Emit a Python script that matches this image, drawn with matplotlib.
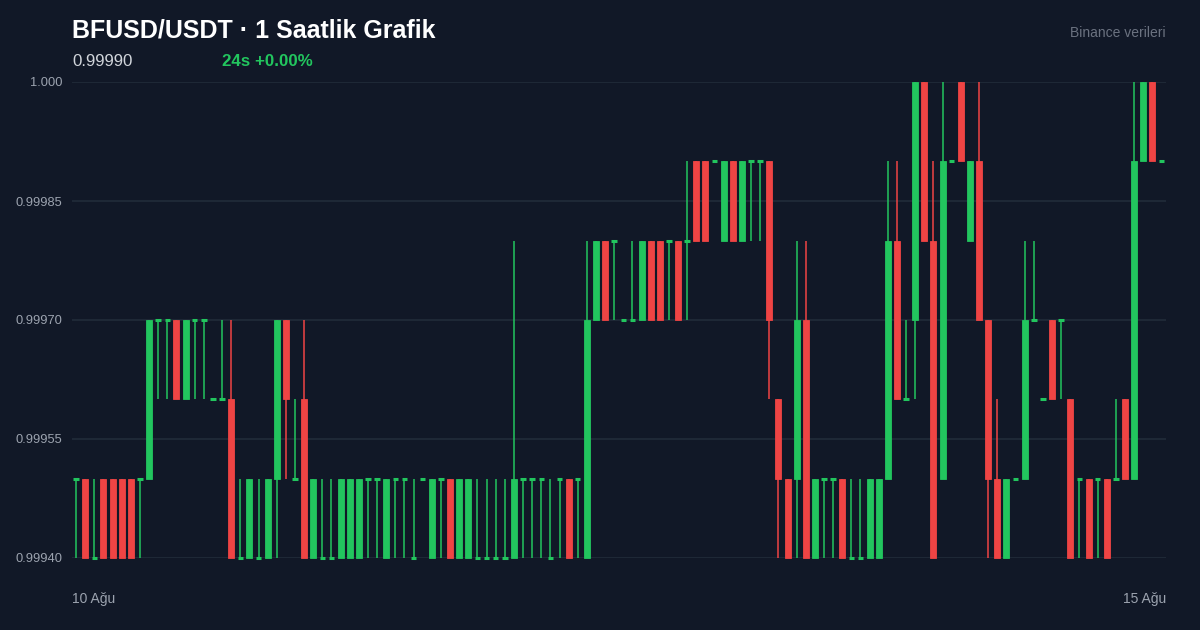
import numpy as np
import matplotlib
matplotlib.use("Agg")
import matplotlib.pyplot as plt

plt.rcParams['font.family'] = ['Liberation Sans', 'DejaVu Sans']

# hourly candles, 10 Ağu -> 15 Ağu (prices)
opens = [
    0.9995, 0.9995, 0.9994, 0.9995, 0.9995, 0.9995, 0.9995, 0.9995, 0.9995, 0.9997,
    0.9997, 0.9997, 0.9996, 0.9997, 0.9997, 0.9996, 0.9996, 0.9996, 0.9994, 0.9994,
    0.9994, 0.9994, 0.9995, 0.9997, 0.9995, 0.9996, 0.9994, 0.9994, 0.9994, 0.9994,
    0.9994, 0.9994, 0.9995, 0.9995, 0.9994, 0.9995, 0.9995, 0.9994, 0.9995, 0.9994,
    0.9995, 0.9995, 0.9994, 0.9994, 0.9994, 0.9994, 0.9994, 0.9994, 0.9994, 0.9995,
    0.9995, 0.9995, 0.9994, 0.9995, 0.9995, 0.9995, 0.9994, 0.9997, 0.9998, 0.9998,
    0.9997, 0.9997, 0.9997, 0.9998, 0.9998, 0.9998, 0.9998, 0.9998, 0.9999, 0.9999,
    0.9999, 0.9998, 0.9999, 0.9998, 0.9999, 0.9999, 0.9999, 0.9996, 0.9995, 0.9995,
    0.9997, 0.9994, 0.9995, 0.9995, 0.9995, 0.9994, 0.9994, 0.9994, 0.9994, 0.9995,
    0.9998, 0.9996, 0.9997, 1.0000, 0.9998, 0.9995, 0.9999, 1.0000, 0.9998, 0.9999,
    0.9997, 0.9995, 0.9994, 0.9995, 0.9995, 0.9997, 0.9996, 0.9997, 0.9997, 0.9996,
    0.9995, 0.9995, 0.9995, 0.9995, 0.9995, 0.9996, 0.9995, 0.9999, 1.0000, 0.9999,
]
closes = [
    0.9995, 0.9994, 0.9994, 0.9994, 0.9994, 0.9994, 0.9994, 0.9995, 0.9997, 0.9997,
    0.9997, 0.9996, 0.9997, 0.9997, 0.9997, 0.9996, 0.9996, 0.9994, 0.9994, 0.9995,
    0.9994, 0.9995, 0.9997, 0.9996, 0.9995, 0.9994, 0.9995, 0.9994, 0.9994, 0.9995,
    0.9995, 0.9995, 0.9995, 0.9995, 0.9995, 0.9995, 0.9995, 0.9994, 0.9995, 0.9995,
    0.9995, 0.9994, 0.9995, 0.9995, 0.9994, 0.9994, 0.9994, 0.9994, 0.9995, 0.9995,
    0.9995, 0.9995, 0.9994, 0.9995, 0.9994, 0.9995, 0.9997, 0.9998, 0.9997, 0.9998,
    0.9997, 0.9997, 0.9998, 0.9997, 0.9997, 0.9998, 0.9997, 0.9998, 0.9998, 0.9998,
    0.9999, 0.9999, 0.9998, 0.9999, 0.9999, 0.9999, 0.9997, 0.9995, 0.9994, 0.9997,
    0.9994, 0.9995, 0.9995, 0.9995, 0.9994, 0.9994, 0.9994, 0.9995, 0.9995, 0.9998,
    0.9996, 0.9996, 1.0000, 0.9998, 0.9994, 0.9999, 0.9999, 0.9999, 0.9999, 0.9997,
    0.9995, 0.9994, 0.9995, 0.9995, 0.9997, 0.9997, 0.9996, 0.9996, 0.9997, 0.9994,
    0.9995, 0.9994, 0.9995, 0.9994, 0.9995, 0.9995, 0.9999, 1.0000, 0.9999, 0.9999,
]
highs = [
    0.9995, 0.9995, 0.9995, 0.9995, 0.9995, 0.9995, 0.9995, 0.9995, 0.9997, 0.9997,
    0.9997, 0.9997, 0.9997, 0.9997, 0.9997, 0.9996, 0.9997, 0.9997, 0.9995, 0.9995,
    0.9995, 0.9995, 0.9997, 0.9997, 0.9996, 0.9997, 0.9995, 0.9995, 0.9995, 0.9995,
    0.9995, 0.9995, 0.9995, 0.9995, 0.9995, 0.9995, 0.9995, 0.9995, 0.9995, 0.9995,
    0.9995, 0.9995, 0.9995, 0.9995, 0.9995, 0.9995, 0.9995, 0.9995, 0.9998, 0.9995,
    0.9995, 0.9995, 0.9995, 0.9995, 0.9995, 0.9995, 0.9998, 0.9998, 0.9998, 0.9998,
    0.9997, 0.9998, 0.9998, 0.9998, 0.9998, 0.9998, 0.9998, 0.9999, 0.9999, 0.9999,
    0.9999, 0.9999, 0.9999, 0.9999, 0.9999, 0.9999, 0.9999, 0.9996, 0.9995, 0.9998,
    0.9998, 0.9995, 0.9995, 0.9995, 0.9995, 0.9995, 0.9995, 0.9995, 0.9995, 0.9999,
    0.9999, 0.9997, 1.0000, 1.0000, 0.9999, 1.0000, 0.9999, 1.0000, 0.9999, 1.0000,
    0.9997, 0.9996, 0.9995, 0.9995, 0.9998, 0.9998, 0.9996, 0.9997, 0.9997, 0.9996,
    0.9995, 0.9995, 0.9995, 0.9995, 0.9996, 0.9996, 1.0000, 1.0000, 1.0000, 0.9999,
]
lows = [
    0.9994, 0.9994, 0.9994, 0.9994, 0.9994, 0.9994, 0.9994, 0.9994, 0.9995, 0.9996,
    0.9996, 0.9996, 0.9996, 0.9996, 0.9996, 0.9996, 0.9996, 0.9994, 0.9994, 0.9994,
    0.9994, 0.9994, 0.9994, 0.9995, 0.9995, 0.9994, 0.9994, 0.9994, 0.9994, 0.9994,
    0.9994, 0.9994, 0.9994, 0.9994, 0.9994, 0.9994, 0.9994, 0.9994, 0.9995, 0.9994,
    0.9994, 0.9994, 0.9994, 0.9994, 0.9994, 0.9994, 0.9994, 0.9994, 0.9994, 0.9994,
    0.9994, 0.9994, 0.9994, 0.9994, 0.9994, 0.9994, 0.9994, 0.9997, 0.9997, 0.9997,
    0.9997, 0.9997, 0.9997, 0.9997, 0.9997, 0.9997, 0.9997, 0.9997, 0.9998, 0.9998,
    0.9999, 0.9998, 0.9998, 0.9998, 0.9998, 0.9998, 0.9996, 0.9994, 0.9994, 0.9994,
    0.9994, 0.9994, 0.9994, 0.9994, 0.9994, 0.9994, 0.9994, 0.9994, 0.9994, 0.9995,
    0.9996, 0.9996, 0.9996, 0.9998, 0.9994, 0.9995, 0.9999, 0.9999, 0.9998, 0.9997,
    0.9994, 0.9994, 0.9994, 0.9995, 0.9995, 0.9997, 0.9996, 0.9996, 0.9996, 0.9994,
    0.9994, 0.9994, 0.9994, 0.9994, 0.9995, 0.9995, 0.9995, 0.9999, 0.9999, 0.9999,
]

y_ticks = [0.99940, 0.99955, 0.99970, 0.99985, 1.0000]
y_labels = ["0.99940", "0.99955", "0.99970", "0.99985", "1.000"]
x_labels = ["10 Ağu", "15 Ağu"]

BG = "#111827"
GREEN = "#22c55e"
RED = "#ef4444"
GRID = "#1f2937"

o = np.array(opens)
c = np.array(closes)
h = np.array(highs)
l = np.array(lows)
x = np.arange(len(o))
up = c >= o
cols = np.where(up, GREEN, RED)

fig = plt.figure(figsize=(12, 6.3), dpi=100, facecolor=BG)
ax = fig.add_axes([0.06, 1 - 558 / 630, 0.9717 - 0.06, (558 - 82) / 630])
ax.set_facecolor(BG)

for yt in y_ticks:
    ax.axhline(yt, color=GRID, lw=1.4, zorder=0)

# wicks
ax.vlines(x, l, h, colors=cols, lw=1.1, zorder=2)

# bodies
body = np.abs(c - o)
has_body = body > 1e-9
ax.bar(x[has_body], body[has_body], bottom=np.minimum(o, c)[has_body],
       width=0.66, color=cols[has_body], edgecolor=cols[has_body],
       linewidth=0.6, zorder=3)

# doji ticks
dj = ~has_body
ax.hlines(o[dj], x[dj] - 0.3, x[dj] + 0.3, colors=cols[dj], lw=2.2, zorder=3)

ax.set_xlim(-0.45, 119.5)
ax.set_ylim(0.9994, 1.0000)
for coll in ax.collections + ax.patches:
    coll.set_clip_on(False)

ax.set_yticks(y_ticks)
ax.set_yticklabels(y_labels)
ax.tick_params(axis="y", length=0, pad=7, labelsize=9.3, labelcolor="#9ca3af")
ax.set_xticks([])
for s in ax.spines.values():
    s.set_visible(False)

fig.text(72 / 1200, 1 - 599 / 630, x_labels[0], ha="left", va="center",
         color="#9ca3af", fontsize=10)
fig.text(1166 / 1200, 1 - 599 / 630, x_labels[1], ha="right", va="center",
         color="#9ca3af", fontsize=10)

fig.text(72 / 1200, 1 - 30 / 630, "BFUSD/USDT · 1 Saatlik Grafik", ha="left",
         va="center", color="white", fontsize=18, fontweight="bold")
fig.text(72 / 1200, 1 - 61 / 630, "0.99990", ha="left", va="center",
         color="#d1d5db", fontsize=12.2)
fig.text(222 / 1200, 1 - 61 / 630, "24s +0.00%", ha="left", va="center",
         color=GREEN, fontsize=12.2, fontweight="bold")
fig.text(1166 / 1200, 1 - 33 / 630, "Binance verileri", ha="right", va="center",
         color="#6b7280", fontsize=10)

fig.savefig("out.png", dpi=100, facecolor=BG)
